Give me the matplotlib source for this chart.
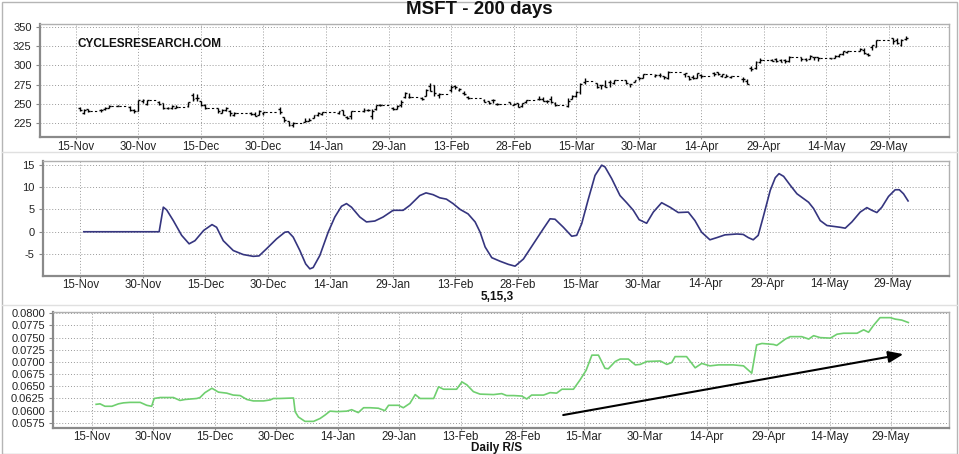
import numpy as np
import matplotlib
matplotlib.use('Agg')
import matplotlib.pyplot as plt
import matplotlib.dates as mdates
from matplotlib.patches import Rectangle
from matplotlib.lines import Line2D

plt.rcParams['font.family'] = ['Liberation Sans', 'DejaVu Sans']

# ---------------- data ----------------
dates = ['2022-11-16','2022-11-17','2022-11-18','2022-11-21','2022-11-22','2022-11-23','2022-11-25',
         '2022-11-28','2022-11-29','2022-11-30','2022-12-01','2022-12-02','2022-12-05','2022-12-06',
         '2022-12-07','2022-12-08','2022-12-09','2022-12-12','2022-12-13','2022-12-14','2022-12-15',
         '2022-12-16','2022-12-19','2022-12-20','2022-12-21','2022-12-22','2022-12-23','2022-12-27',
         '2022-12-28','2022-12-29','2022-12-30','2023-01-03','2023-01-04','2023-01-05','2023-01-06',
         '2023-01-09','2023-01-10','2023-01-11','2023-01-12','2023-01-13','2023-01-17','2023-01-18',
         '2023-01-19','2023-01-20','2023-01-23','2023-01-24','2023-01-25','2023-01-26','2023-01-27',
         '2023-01-30','2023-01-31','2023-02-01','2023-02-02','2023-02-03','2023-02-06','2023-02-07',
         '2023-02-08','2023-02-09','2023-02-10','2023-02-13','2023-02-14','2023-02-15','2023-02-16',
         '2023-02-17','2023-02-21','2023-02-22','2023-02-23','2023-02-24','2023-02-27','2023-02-28',
         '2023-03-01','2023-03-02','2023-03-03','2023-03-06','2023-03-07','2023-03-08','2023-03-09',
         '2023-03-10','2023-03-13','2023-03-14','2023-03-15','2023-03-16','2023-03-17','2023-03-20',
         '2023-03-21','2023-03-22','2023-03-23','2023-03-24','2023-03-27','2023-03-28','2023-03-29',
         '2023-03-30','2023-03-31','2023-04-03','2023-04-04','2023-04-05','2023-04-06','2023-04-10',
         '2023-04-11','2023-04-12','2023-04-13','2023-04-14','2023-04-17','2023-04-18','2023-04-19',
         '2023-04-20','2023-04-21','2023-04-24','2023-04-25','2023-04-26','2023-04-27','2023-04-28',
         '2023-05-01','2023-05-02','2023-05-03','2023-05-04','2023-05-05','2023-05-08','2023-05-09',
         '2023-05-10','2023-05-11','2023-05-12','2023-05-15','2023-05-16','2023-05-17','2023-05-18',
         '2023-05-19','2023-05-22','2023-05-23','2023-05-24','2023-05-25','2023-05-26','2023-05-30',
         '2023-05-31','2023-06-01','2023-06-02']
opens = [244.5,237.8,243.5,241.4,243.6,245.1,247.3,246.1,241.4,240.6,253.9,249.8,252.0,250.8,
         244.8,244.8,244.7,247.4,261.7,257.1,253.7,248.6,244.9,238.0,241.7,241.3,236.1,238.7,
         236.9,235.7,238.2,243.1,232.3,227.2,223.0,226.5,227.8,231.3,235.3,237.0,237.9,241.6,
         233.0,234.0,241.1,242.5,234.5,243.7,248.9,244.5,243.5,248.0,258.8,259.5,257.4,260.5,
         273.2,273.8,261.5,267.6,272.7,268.3,264.0,259.4,254.5,254.1,255.6,249.9,252.5,249.1,
         250.8,246.6,252.2,256.4,256.3,254.0,255.8,251.1,247.4,256.8,259.9,265.2,278.3,276.9,
         274.9,273.4,277.9,277.2,280.5,275.8,278.9,284.2,283.7,286.5,287.2,285.9,283.2,289.2,
         285.8,284.8,283.6,287.0,289.9,291.6,285.9,285.3,285.0,282.1,279.5,296.7,296.0,304.0,
         307.0,307.8,306.6,306.2,305.7,310.1,308.0,308.6,310.1,310.6,309.1,309.8,312.3,314.5,
         316.7,318.6,320.0,314.7,323.2,324.0,335.2,332.3,325.9,334.2]
highs = [246.0,243.8,243.7,243.0,245.6,248.8,248.7,246.7,242.8,255.3,256.1,255.0,253.8,251.4,
         246.2,248.7,248.3,252.5,263.9,262.6,254.2,249.8,245.2,242.8,245.6,241.9,238.9,238.9,
         239.7,241.9,239.9,245.8,232.9,227.6,225.8,231.2,231.3,235.9,239.9,239.4,240.9,242.4,
         233.6,240.2,245.2,243.9,243.3,248.3,249.8,245.6,247.9,255.2,264.7,264.2,258.3,268.8,
         276.8,273.9,264.1,274.6,274.0,270.7,266.7,260.1,256.8,254.3,256.8,251.0,252.8,251.5,
         250.9,251.4,255.6,260.1,258.6,254.5,259.6,252.8,257.9,261.1,266.5,276.6,283.3,277.5,
         275.0,281.0,281.1,280.6,281.5,276.1,281.1,284.5,289.3,288.3,290.5,286.3,292.1,289.6,
         285.9,287.2,289.9,288.5,291.6,291.7,289.0,289.0,286.2,284.9,281.6,299.6,305.2,308.9,
         308.6,309.2,308.6,307.8,312.0,310.2,310.0,313.0,311.1,310.7,309.9,313.7,314.4,319.0,
         318.8,322.6,322.7,316.5,326.9,333.4,335.7,335.9,333.5,337.5]
lows = [241.1,237.2,239.0,239.0,241.5,244.9,246.7,240.8,238.2,240.3,250.9,249.0,248.1,242.9,
        243.0,243.1,244.2,246.0,253.7,254.1,247.3,243.5,238.3,238.0,240.1,233.9,233.9,235.8,
        234.2,235.7,236.1,237.4,225.8,221.8,219.4,226.4,227.3,231.1,233.6,234.9,237.1,235.5,
        230.0,230.8,239.6,240.4,230.9,242.3,246.8,242.2,242.9,245.5,257.3,257.1,254.8,260.1,
        266.2,260.8,257.8,264.8,269.3,266.2,261.9,256.9,252.0,250.3,250.5,248.1,249.4,248.7,
        245.8,245.6,251.4,255.0,253.8,250.8,251.6,247.6,245.5,255.9,259.5,263.3,276.3,269.9,
        269.5,272.2,272.2,275.4,275.5,272.0,278.4,281.5,283.0,285.0,285.4,281.6,282.0,285.1,
        280.5,282.3,283.2,283.7,286.2,287.0,284.5,284.6,283.0,278.7,275.4,292.7,295.3,303.3,
        305.2,303.9,304.1,303.4,304.3,306.1,306.1,308.4,306.3,305.3,307.6,309.8,310.7,313.7,
        316.1,318.0,315.1,312.6,320.0,323.9,327.4,327.3,324.7,332.6]
closes = [241.7,241.7,241.2,242.1,245.0,247.6,247.5,241.8,240.3,255.1,254.7,255.0,250.2,245.1,
          244.4,247.4,245.4,252.5,256.9,257.2,249.0,244.7,240.5,241.8,244.4,238.2,238.7,237.0,
          234.5,241.0,239.8,239.6,229.1,222.3,224.9,227.1,228.9,235.8,238.5,239.2,240.4,235.8,
          231.9,240.2,242.6,242.0,240.6,248.0,248.2,242.7,247.8,252.8,264.6,258.4,256.8,267.6,
          266.7,263.6,263.1,271.3,272.2,269.3,262.2,258.1,252.7,251.5,254.8,249.2,250.2,249.4,
          246.3,251.1,255.3,256.9,254.2,253.7,252.3,248.6,253.9,260.8,265.4,276.2,279.4,272.2,
          273.8,272.3,277.7,280.6,276.4,275.2,280.5,284.1,288.3,287.2,287.2,284.3,291.6,289.4,
          282.8,283.5,289.8,286.1,288.8,288.4,288.5,286.1,285.8,281.8,275.4,295.4,304.8,307.3,
          305.6,305.4,304.4,305.4,310.7,308.7,307.0,312.3,310.1,309.0,309.5,311.7,314.0,318.5,
          318.3,321.2,315.3,313.9,325.9,332.9,331.2,328.4,332.6,335.4]

tick_labels = ['15-Nov','30-Nov','15-Dec','30-Dec','14-Jan','29-Jan','13-Feb','28-Feb',
               '15-Mar','30-Mar','14-Apr','29-Apr','14-May','29-May']
tick_dates = ['2022-11-15','2022-11-30','2022-12-15','2022-12-30','2023-01-14','2023-01-29',
              '2023-02-13','2023-02-28','2023-03-15','2023-03-30','2023-04-14','2023-04-29',
              '2023-05-14','2023-05-29']

# oscillator (5,15,3): days after 15-Nov-2022, values
osc_days = [0.8,18.9,19.9,20.7,22.3,24.3,26.1,27.5,29.6,31.6,32.7,34.3,36.7,39.1,41.5,42.9,44.7,
            47.1,49.1,49.9,51.1,52.7,54.1,55.1,55.9,57.5,59.5,61.1,62.7,63.9,65.1,67.1,68.7,70.7,
            72.7,75.1,77.5,79.1,81.5,83.0,84.7,86.3,87.9,89.5,91.2,93.1,94.8,96.0,97.2,98.8,100.8,
            102.8,104.4,106.4,108.8,111.2,112.8,114.0,116.0,118.0,119.2,120.4,121.9,123.6,125.2,
            126.0,127.6,129.6,131.2,132.8,134.2,136.0,137.6,139.6,141.6,143.6,146.0,147.6,149.2,
            151.2,152.9,154.8,157.7,159.2,160.4,161.6,162.8,164.0,165.7,166.9,167.8,168.9,170.5,
            172.1,174.9,176.1,177.7,179.3,182.5,183.7,185.3,187.3,188.9,190.1,191.3,192.5,194.1,
            195.7,196.7,197.7,198.8]
osc_vals = [0.0,0.0,5.5,4.9,2.5,-0.8,-2.7,-2.0,0.3,1.6,1.0,-2.0,-4.2,-5.1,-5.5,-5.4,-3.8,
            -1.6,-0.1,0.0,-1.2,-4.2,-7.2,-8.3,-8.0,-5.3,-0.1,3.3,5.7,6.3,5.5,3.3,2.2,2.4,
            3.3,4.8,4.8,5.9,8.1,8.7,8.3,7.6,7.3,6.3,5.0,4.0,2.2,-0.1,-3.4,-5.8,-6.6,
            -7.3,-7.7,-6.1,-2.7,0.7,2.9,2.8,1.0,-1.0,-0.8,1.8,7.0,12.6,14.9,
            14.5,11.9,8.1,6.5,4.8,2.7,1.9,4.4,6.5,5.5,4.3,4.4,2.5,-0.1,
            -1.8,-1.3,-0.7,-0.5,-0.6,-1.3,-1.8,-0.8,3.3,9.3,12.1,13.0,12.4,10.4,
            8.5,6.6,5.2,2.5,1.4,1.0,0.8,2.2,4.4,5.4,4.8,4.3,5.5,7.9,
            9.4,9.4,8.5,6.9]

# daily relative strength
rs_days = [1.05,2.0,3.2,4.9,6.5,7.7,9.3,11.8,13.4,14.6,15.2,16.7,19.9,21.5,22.8,25.6,26.4,27.6,
           29.3,30.9,32.9,34.5,36.2,37.8,39.4,41.9,43.5,44.3,45.9,49.2,49.6,50.4,52.0,54.1,55.7,
           56.9,58.1,59.8,62.2,63.4,65.0,66.3,67.9,69.9,71.5,72.4,74.8,76.0,77.6,78.9,80.1,83.4,
           84.6,85.8,89.0,90.3,91.5,93.1,94.7,98.0,100.0,101.2,102.9,104.9,106.1,107.3,110.2,
           111.8,113.4,114.7,117.5,119.1,120.6,122.0,123.6,125.2,126.0,127.7,128.9,130.9,132.6,
           133.8,135.4,138.7,140.3,141.5,142.3,145.1,147.2,148.8,150.8,152.9,156.5,159.0,161.0,
           162.2,163.5,166.3,167.1,169.2,170.4,173.2,174.9,176.1,177.7,180.2,181.8,183.4,186.7,
           188.3,189.5,190.7,192.3,194.8,196.0,197.6,199.2]
rs_vals = [0.0613,0.0614,0.0609,0.0609,0.0614,0.0616,0.0617,0.0617,0.0611,0.0609,0.0625,0.0627,
           0.0627,0.0621,0.0623,0.0625,0.0627,0.0637,0.0646,0.0638,0.0636,0.0632,0.0631,0.0623,
           0.0620,0.0620,0.0622,0.0625,0.0625,0.0626,0.0598,0.0587,0.0578,0.0578,0.0584,0.0591,
           0.0599,0.0598,0.0599,0.0602,0.0596,0.0606,0.0606,0.0605,0.0600,0.0611,0.0611,0.0606,
           0.0615,0.0633,0.0625,0.0625,0.0649,0.0644,0.0644,0.0659,0.0653,0.0639,0.0634,0.0633,
           0.0635,0.0631,0.0631,0.0630,0.0624,0.0632,0.0632,0.0637,0.0636,0.0644,0.0644,0.0663,
           0.0683,0.0714,0.0714,0.0687,0.0686,0.0701,0.0706,0.0706,0.0694,0.0695,0.0701,0.0702,
           0.0695,0.0699,0.0711,0.0711,0.0688,0.0697,0.0692,0.0694,0.0694,0.0692,0.0677,0.0735,
           0.0738,0.0736,0.0734,0.0747,0.0752,0.0752,0.0747,0.0754,0.0750,0.0749,0.0757,0.0759,
           0.0759,0.0766,0.0761,0.0775,0.0791,0.0791,0.0788,0.0786,0.0781]

# trend arrow (days, value)
arrow_start = (115.0, 0.0591)
arrow_end = (198.0, 0.0716)

# ---------------- plotting ----------------
W, H = 959, 454
fig = plt.figure(figsize=(W / 100, H / 100), dpi=100)
fig.patch.set_facecolor('white')

base = mdates.date2num(np.datetime64('2022-11-15'))
tick_x = [mdates.date2num(np.datetime64(d)) for d in tick_dates]

def px_axes(l, r, t, b):
    return fig.add_axes([l / W, 1 - b / H, (r - l) / W, (b - t) / H])

def style(ax, xlim_days, ylim, yticks, yfmt, xpad):
    ax.set_xlim(base + xlim_days[0], base + xlim_days[1])
    ax.set_ylim(*ylim)
    ax.set_xticks(tick_x)
    ax.set_xticklabels(tick_labels)
    ax.set_yticks(yticks)
    ax.set_yticklabels([yfmt.format(v) for v in yticks])
    ax.grid(True, color='#9a9a9a', linestyle=(0, (1, 2)), linewidth=0.7)
    ax.set_axisbelow(True)
    ax.tick_params(axis='x', length=1.5, pad=xpad, labelsize=8.3, colors='#222222')
    ax.tick_params(axis='y', length=3, pad=3, labelsize=8, colors='#222222')
    ax.tick_params(axis='both', color='#888888')
    for s in ['top', 'right']:
        ax.spines[s].set_color('#b0b0b0')
        ax.spines[s].set_linewidth(1.0)
    for s in ['left', 'bottom']:
        ax.spines[s].set_color('#8a8a8a')
        ax.spines[s].set_linewidth(1.6)

# Panel 1: price bars
ax1 = px_axes(40, 949, 24, 137)
style(ax1, (-8.6, 209.4), (207, 353.5), [225, 250, 275, 300, 325, 350], '{:.0f}', 1.5)
x = np.array([mdates.date2num(np.datetime64(d)) for d in dates])
o = np.array(opens); h = np.array(highs); l = np.array(lows); c = np.array(closes)
tw = 0.45
ax1.vlines(x, l, h, color='black', linewidth=1.0)
ax1.hlines(o, x - tw, x, color='black', linewidth=1.0)
ax1.hlines(c, x, x + tw, color='black', linewidth=1.0)
for i in range(len(x) - 1):
    if x[i + 1] - x[i] > 1.5:
        ax1.hlines(c[i], x[i] + tw, x[i + 1] - tw, color='black', linewidth=0.8,
                   linestyles=(0, (2, 2)))
ax1.text((78 - 40) / 909, (137 - 44) / 113, 'CYCLESRESEARCH.COM', transform=ax1.transAxes,
         fontsize=8.5, fontweight='bold', ha='left', va='center', color='#111111')

# Panel 2: oscillator
ax2 = px_axes(43, 949.3, 160.7, 276)
style(ax2, (-9.0, 208.7), (-9.9, 15.9), [-5, 0, 5, 10, 15], '{:.0f}', 0.3)
ax2.plot(base + np.array(osc_days), osc_vals, color='#35357f', linewidth=1.2)

# Panel 3: relative strength
ax3 = px_axes(53.3, 949.3, 312.3, 427.7)
style(ax3, (-9.4, 209.2), (0.0565, 0.0802),
      [0.0575, 0.0600, 0.0625, 0.0650, 0.0675, 0.0700, 0.0725, 0.0750, 0.0775, 0.0800], '{:.4f}', 0.8)
ax3.plot(base + np.array(rs_days), rs_vals, color='#6fcf6f', linewidth=1.2)
ax3.annotate('', xy=(base + arrow_end[0], arrow_end[1]),
             xytext=(base + arrow_start[0], arrow_start[1]),
             arrowprops=dict(arrowstyle='-|>,head_length=0.9,head_width=0.35',
                             color='black', lw=1.5, shrinkA=0, shrinkB=0))

# Titles / labels
fig.text(0.5, 1 - 10 / H, 'MSFT - 200 days', ha='center', va='center',
         fontsize=13.5, fontweight='bold', color='#111111')
fig.text(497 / W, 1 - 296.5 / H, '5,15,3', ha='center', va='center',
         fontsize=8.5, fontweight='bold', color='#111111')
fig.text(497 / W, 1 - 448.5 / H, 'Daily R/S', ha='center', va='center',
         fontsize=8.5, fontweight='bold', color='#111111')

# frame and separators
fig.add_artist(Rectangle((2 / W, 0), 1 - 4 / W, 1 - 2 / H, transform=fig.transFigure,
                         fill=False, edgecolor='#b5b5b5', linewidth=1.0))
for yy in (152, 305):
    fig.add_artist(Line2D([2 / W, 1 - 2 / W], [1 - yy / H, 1 - yy / H],
                          transform=fig.transFigure, color='#e0e0e0', linewidth=1.0))

fig.savefig('out.png', dpi=100, facecolor='white')
